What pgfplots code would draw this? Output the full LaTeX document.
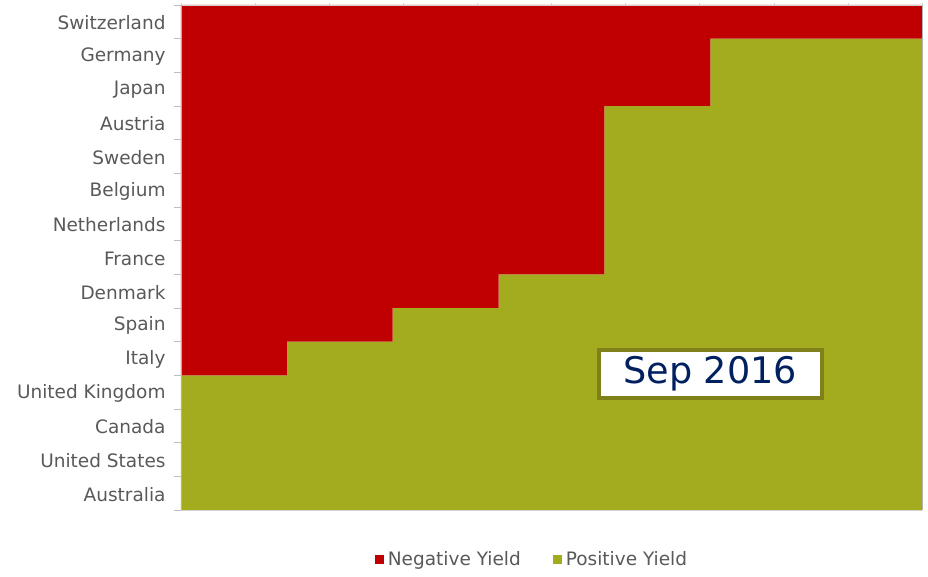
\documentclass[border=0pt]{standalone}
\usepackage{pgfplots}
\pgfplotsset{compat=1.18}
\usepackage{fontspec}
\setmainfont{DejaVu Sans}
\definecolor{negred}{HTML}{C00000}
\definecolor{posgreen}{HTML}{A2AC1E}
\definecolor{boxolive}{HTML}{7F8019}
\definecolor{navy}{HTML}{002060}
\definecolor{lbl}{HTML}{595959}
\begin{document}
\begin{tikzpicture}
\begin{axis}[
  scale only axis,
  width=370.5pt, height=252.5pt,
  xbar stacked,
  bar width=1,
  xmin=0, xmax=7,
  ymin=-0.5, ymax=14.5,
  ytick={0,...,14},
  yticklabels={Australia,United States,Canada,United Kingdom,Italy,Spain,Denmark,France,Netherlands,Belgium,Sweden,Austria,Japan,Germany,Switzerland},
  minor ytick={-0.5,0.5,...,14.5},
  major tick length=1.2pt,
  minor tick length=3.5pt,
  tick align=outside,
  ytick pos=left,
  xtick={0,0.7,1.4,2.1,2.8,3.5,4.2,4.9,5.6,6.3,7},
  xtick pos=right,
  xticklabels={},
  xticklabel style={overlay},
  xtick style={draw=gray!35},
  major y tick style={draw=none},
  minor y tick style={draw=gray!50},
  yticklabel style={font=\fontsize{9.25}{11}\selectfont, text=lbl, xshift=-3pt, yshift=-0.5pt},
  axis on top,
  separate axis lines,
  axis line style={draw=gray!35},
  y axis line style={draw=gray!60},
  clip=false,
  legend style={at={(0.475,-0.099)}, anchor=center, legend columns=2, draw=none,
    font=\fontsize{9.25}{11}\selectfont, text=lbl,
    /tikz/every even column/.append style={column sep=14pt}},
  legend image code/.code={\fill[#1] (0pt,-2.25pt) rectangle (4.5pt,2.25pt);},
  legend cell align=left,
]
\addplot[fill=negred, draw=none] coordinates {
(0,0) (0,1) (0,2) (0,3) (1,4) (2,5) (3,6) (4,7) (4,8) (4,9) (4,10) (4,11) (5,12) (5,13) (7,14)};
\addplot[fill=posgreen, draw=none] coordinates {
(7,0) (7,1) (7,2) (7,3) (6,4) (5,5) (4,6) (3,7) (3,8) (3,9) (3,10) (3,11) (2,12) (2,13) (0,14)};
\legend{Negative Yield, Positive Yield}
\coordinate (SW) at (rel axis cs:0,0);
\coordinate (B) at (axis cs:5,3.54);
\end{axis}
\node[fill=white, draw=boxolive, line width=2pt, minimum width=111.5pt, minimum height=24pt,
  inner sep=0pt, text=navy, font=\fontsize{18.3}{20}\selectfont] at (B) {Sep 2016};
\path (SW) ++(-90.5pt,-32pt) rectangle ++(464pt,287pt);
\end{tikzpicture}
\end{document}
